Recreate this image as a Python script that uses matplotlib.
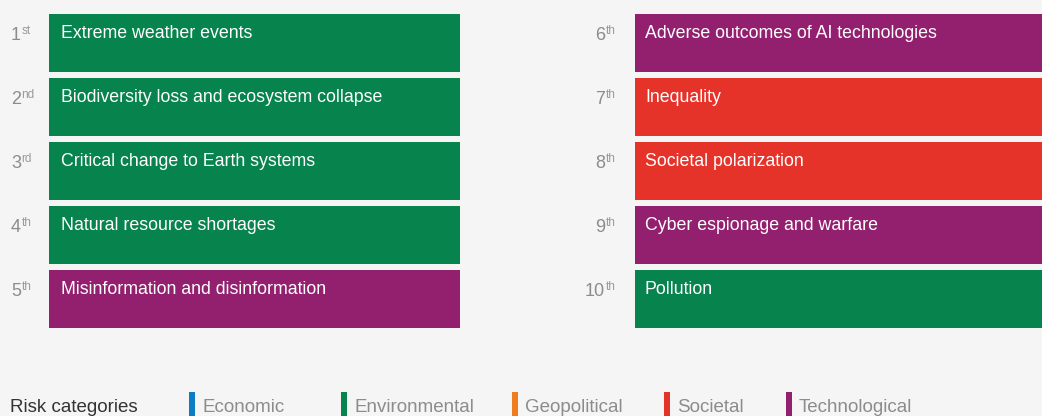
import matplotlib
matplotlib.use("Agg")
import matplotlib.pyplot as plt

# ---------- data ----------
ranks = [1, 2, 3, 4, 5, 6, 7, 8, 9, 10]
suffixes = ["st", "nd", "rd", "th", "th", "th", "th", "th", "th", "th"]
risks = [
    "Extreme weather events",
    "Biodiversity loss and ecosystem collapse",
    "Critical change to Earth systems",
    "Natural resource shortages",
    "Misinformation and disinformation",
    "Adverse outcomes of AI technologies",
    "Inequality",
    "Societal polarization",
    "Cyber espionage and warfare",
    "Pollution",
]
risk_cats = ["Environmental", "Environmental", "Environmental", "Environmental", "Technological",
             "Technological", "Societal", "Societal", "Technological", "Environmental"]
legend_cats = ["Economic", "Environmental", "Geopolitical", "Societal", "Technological"]

cat_colors = {
    "Economic": "#0C7DC2",
    "Environmental": "#07834E",
    "Geopolitical": "#EE7D22",
    "Societal": "#E6332A",
    "Technological": "#93206F",
}

BG = "#F5F5F5"
plt.rcParams['font.family'] = ['Liberation Sans', 'DejaVu Sans']

W, H = 1042, 416
fig = plt.figure(figsize=(W / 100, H / 100), dpi=100, facecolor=BG)
ax = fig.add_axes([0, 0, 1, 1])
ax.set_facecolor(BG)
ax.set_xlim(0, W)
ax.set_ylim(H, 0)
ax.axis('off')

# layout (pixels)
col_left = [49, 635]
col_width = [411, 407]
text_pad = [12, 10]
num_right = [21, 605]
row_top0, row_h, row_step = 14, 58, 64

for i, (rk, suf, name, cat) in enumerate(zip(ranks, suffixes, risks, risk_cats)):
    col = i // 5
    row = i % 5
    top = row_top0 + row * row_step
    ax.barh(top + row_h / 2, col_width[col], left=col_left[col], height=row_h,
            color=cat_colors[cat], linewidth=0)
    ax.text(col_left[col] + text_pad[col], top + 23.5, name, color="white", fontsize=12.8,
            ha='left', va='baseline')
    ax.text(num_right[col], top + 26, str(rk), color="#8C8C8C", fontsize=13,
            ha='right', va='baseline')
    ax.text(num_right[col] + 0.5, top + 19.5, suf, color="#9A9A9A", fontsize=8.5,
            ha='left', va='baseline')

# legend
ax.text(10, 412, "Risk categories", color="#333333", fontsize=13.5, ha='left', va='baseline')
leg_x = [189, 341, 512, 664, 786]
for lx, cat in zip(leg_x, legend_cats):
    ax.bar(lx + 3, 26, bottom=392, width=6, color=cat_colors[cat], linewidth=0)
    ax.text(lx + 13, 412, cat, color="#8C8C8C", fontsize=13.5, ha='left', va='baseline')

fig.savefig("out.png", dpi=100, facecolor=BG)
